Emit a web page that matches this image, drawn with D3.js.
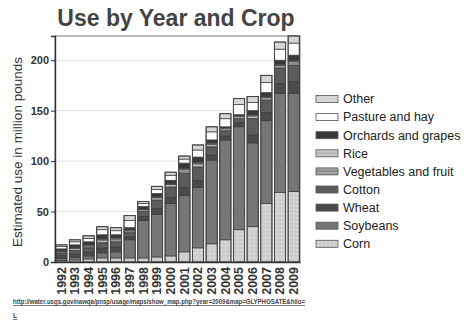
<!DOCTYPE html>
<html>
<head>
<meta charset="utf-8">
<script src="https://cdn.jsdelivr.net/npm/d3@7"></script>
<style>
  html, body { margin: 0; padding: 0; background: #fff; }
  svg { display: block; }
  text { font-family: "Liberation Sans", Arial, sans-serif; }
</style>
</head>
<body>
<svg id="chart" width="464" height="325"></svg>
<script>
// Glyphosate use by year and crop, million pounds
const years = ["1992","1993","1994","1995","1996","1997","1998","1999","2000",
               "2001","2002","2003","2004","2005","2006","2007","2008","2009"];
const corn       = [1.5, 2, 3, 4, 4, 4, 4, 5, 6, 10, 14, 18, 22, 32, 35, 58, 69, 70];
const soybeans   = [2, 2.5, 3, 5, 6, 18, 37, 42, 52, 56, 60, 83, 99, 102, 83, 82, 98, 97];
const wheat      = [3, 3.5, 4, 5, 5, 3, 4, 6, 6, 8, 7, 5, 4, 4, 8, 8, 10, 12];
const cotton     = [2.5, 3.5, 4, 5, 5, 4, 5, 8, 10, 14, 13, 8, 5, 4, 16, 12, 15, 16];
const vegetables = [1.5, 2, 2, 3, 3, 2, 2, 3, 3, 4, 4, 3, 2, 2, 3, 3, 3, 4];
const rice       = [0.5, 1, 1, 1, 1, 1, 0.5, 1, 1, 1, 1, 1, 1, 1, 1, 1, 1, 1];
const orchards   = [2, 2.5, 3, 4, 3, 2, 2.5, 3, 3, 5, 5, 3, 1, 1, 4, 4, 4, 5];
const pasture    = [2.5, 3, 3.5, 5, 4, 7, 3, 4, 5, 4, 7, 8, 8, 10, 8, 10, 11, 12];
const other      = [1.5, 2, 2.5, 3, 3, 5, 2, 3, 3, 3, 5, 5, 5, 6, 6, 7, 7, 7];

// stacking order, bottom to top
const seriesKeys = ["Corn","Soybeans","Wheat","Cotton","Vegetables and fruit",
                    "Rice","Orchards and grapes","Pasture and hay","Other"];
const seriesValues = [corn, soybeans, wheat, cotton, vegetables, rice, orchards, pasture, other];
const yTicks = [0, 50, 100, 150, 200];
const sourceUrl = "http://water.usgs.gov/nawqa/pnsp/usage/maps/show_map.php?year=2009&map=GLYPHOSATE&hilo=";
const sourceUrlTail = "L";

const rows = years.map((y, i) => {
  const r = { year: y };
  seriesKeys.forEach((k, j) => { r[k] = seriesValues[j][i]; });
  return r;
});

const svg = d3.select("#chart");
const defs = svg.append("defs");

// hatched fills
function pattern(id, bg, draw) {
  const p = defs.append("pattern").attr("id", id)
    .attr("patternUnits", "userSpaceOnUse").attr("width", 4).attr("height", 4);
  p.append("rect").attr("width", 4).attr("height", 4).attr("fill", bg);
  draw(p);
}
pattern("pCorn", "#cdcdcd", p => p.append("rect").attr("x", 1).attr("y", 1)
  .attr("width", 1.2).attr("height", 1.2).attr("fill", "#eeeeee"));
pattern("pVeg", "#8c8c8c", p => p.append("path").attr("d", "M0,2 L2,1 L4,2")
  .attr("stroke", "#d0d0d0").attr("stroke-width", 0.8).attr("fill", "none"));
pattern("pRice", "#b4b4b4", p => p.append("path").attr("d", "M0,2 L4,2")
  .attr("stroke", "#eaeaea").attr("stroke-width", 0.8));

const fills = {
  "Corn": "url(#pCorn)",
  "Soybeans": "#767676",
  "Wheat": "#4a4a4a",
  "Cotton": "#5c5c5c",
  "Vegetables and fruit": "url(#pVeg)",
  "Rice": "url(#pRice)",
  "Orchards and grapes": "#383838",
  "Pasture and hay": "#fbfbfb",
  "Other": "#d6d6d6"
};

const plot = { left: 55, right: 300, top: 36, bottom: 262 };

const x = d3.scaleBand().domain(years)
  .range([plot.left, plot.right]).paddingInner(0.18).paddingOuter(0.05);
const y = d3.scaleLinear().domain([0, 224]).range([plot.bottom, plot.top]);

// title
svg.append("text").attr("x", 176).attr("y", 26).attr("text-anchor", "middle")
  .attr("font-size", 23).attr("font-weight", "bold").attr("fill", "#444")
  .text("Use by Year and Crop");

// frame
svg.append("rect").attr("x", plot.left).attr("y", plot.top)
  .attr("width", plot.right - plot.left).attr("height", plot.bottom - plot.top)
  .attr("fill", "none").attr("stroke", "#777").attr("stroke-width", 1);

// gridlines
svg.append("g").selectAll("line").data(yTicks.filter(t => t > 0)).join("line")
  .attr("x1", plot.left).attr("x2", plot.right)
  .attr("y1", d => y(d)).attr("y2", d => y(d))
  .attr("stroke", "#e2e2e2").attr("stroke-width", 1);

// stacked bars
const stack = d3.stack().keys(seriesKeys)(rows);
svg.append("g").selectAll("g").data(stack).join("g")
  .attr("fill", d => fills[d.key])
  .selectAll("rect").data(d => d).join("rect")
  .attr("x", d => x(d.data.year))
  .attr("y", d => y(d[1]))
  .attr("width", x.bandwidth())
  .attr("height", d => Math.max(0, y(d[0]) - y(d[1])))
  .attr("stroke", "#3a3a3a").attr("stroke-width", 0.7);

// bar outlines
svg.append("g").selectAll("rect").data(rows).join("rect")
  .attr("x", d => x(d.year))
  .attr("y", d => y(d3.sum(seriesKeys, k => d[k])))
  .attr("width", x.bandwidth())
  .attr("height", d => y(0) - y(d3.sum(seriesKeys, k => d[k])))
  .attr("fill", "none").attr("stroke", "#444").attr("stroke-width", 1);

// y axis
const yAxis = svg.append("g").attr("transform", `translate(${plot.left},0)`)
  .call(d3.axisLeft(y).tickValues(yTicks).tickSize(4).tickPadding(2));
yAxis.select(".domain").attr("stroke", "#333").attr("stroke-width", 1.4);
yAxis.selectAll(".tick line").attr("stroke", "#333");
yAxis.selectAll("text").attr("font-size", 11).attr("font-weight", "bold").attr("fill", "#333")
  .attr("font-family", "'Liberation Sans', Arial, sans-serif");

// x axis
const xAxis = svg.append("g").attr("transform", `translate(0,${plot.bottom})`)
  .call(d3.axisBottom(x).tickSize(0).tickPadding(0));
xAxis.select(".domain").attr("stroke", "#333").attr("stroke-width", 1.4);
xAxis.selectAll("text")
  .attr("font-size", 12.5).attr("font-weight", "bold").attr("fill", "#333")
  .attr("font-family", "'Liberation Sans', Arial, sans-serif")
  .attr("text-anchor", "end")
  .attr("transform", "translate(0,5) rotate(-90)")
  .attr("x", 0).attr("y", 0).attr("dy", "0.35em");

// y axis title
svg.append("text")
  .attr("transform", "translate(22,152) rotate(-90)")
  .attr("text-anchor", "middle").attr("font-size", 13.5).attr("fill", "#333")
  .text("Estimated use in million pounds");

// legend, top entry first
const legendKeys = seriesKeys.slice().reverse();
const legend = svg.append("g").selectAll("g").data(legendKeys).join("g")
  .attr("transform", (d, i) => `translate(316,${99 + i * 18.1})`);
legend.append("rect").attr("x", 0).attr("y", -3.5).attr("width", 22).attr("height", 7)
  .attr("fill", d => fills[d]).attr("stroke", "#555").attr("stroke-width", 0.8);
legend.append("text").attr("x", 27).attr("y", 0).attr("dy", "0.35em")
  .attr("font-size", 12.5).attr("fill", "#222")
  .text(d => d);

// source link
svg.append("text").attr("x", 13).attr("y", 304)
  .attr("font-size", 7).attr("font-weight", "bold").attr("fill", "#444")
  .attr("text-decoration", "underline")
  .attr("textLength", 292).attr("lengthAdjust", "spacingAndGlyphs")
  .text(sourceUrl);
svg.append("text").attr("x", 13).attr("y", 318)
  .attr("font-size", 7).attr("font-weight", "bold").attr("fill", "#444")
  .attr("text-decoration", "underline")
  .text(sourceUrlTail);
</script>
</body>
</html>
